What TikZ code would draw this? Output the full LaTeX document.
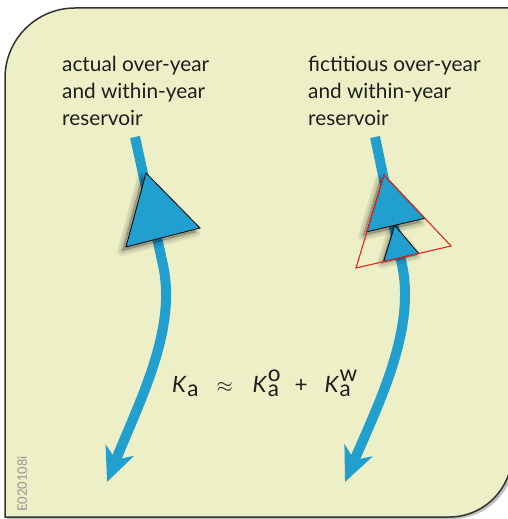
\documentclass[tikz,border=0pt]{standalone}
\usepackage{fontspec}
\setmainfont{Lato}
\usetikzlibrary{arrows.meta,calc}
\definecolor{bg}{RGB}{237,240,198}
\definecolor{flow}{RGB}{33,160,208}
\definecolor{ink}{RGB}{30,30,30}
\definecolor{redline}{RGB}{225,40,30}
\definecolor{mark}{RGB}{150,150,150}
\newcommand\Kbase{\textit{K}\kern0.5pt\raisebox{-4pt}{a}}
\newcommand\Kterm[1]{\textit{K}\kern0.5pt\rlap{\raisebox{-4pt}{a}}\raisebox{11pt}{#1}}
\newcommand\softshadow[1]{%
  \foreach \w in {10,7,4,1} {\filldraw[black,opacity=0.06,line width=\w pt,line join=round] #1;}}
\begin{document}
\begin{tikzpicture}[x=1pt,y=-1pt,
  lbl/.style={font=\fontsize{20.8}{27}\selectfont, text=ink, align=left, anchor=north west, inner sep=0pt},
  flowline/.style={draw=flow, line width=10pt, -{Stealth[length=34pt,width=30pt,inset=10pt]}},
  bluetri/.style={fill=flow, draw=black, line width=0.8pt, line join=miter},
  redtri/.style={draw=redline, line width=1.1pt, line join=miter},
  frame/.style={draw=black!80, line width=1.5pt}]
\useasboundingbox (0,0) rectangle (508,519);
% background panel
\fill[black,opacity=0.25] (7,519) -- (7,80) arc[start angle=180, end angle=270, radius=70] -- (515,10) -- (515,456) arc[start angle=0, end angle=90, radius=63] -- cycle;
\path[fill=bg, frame] (5,517) -- (5,78) arc[start angle=180, end angle=270, radius=70] -- (512,8) -- (512,454) arc[start angle=0, end angle=90, radius=63] -- cycle;

% labels
\node[lbl] (ltext) at (62,56) {actual over-year\\and within-year\\reservoir};
\node[lbl] (rtext) at (308,56) {fictitious over-year\\and within-year\\reservoir};

% left flow
\coordinate (L0) at (135,137);
\coordinate (L1) at (163,265);
\coordinate (Ltip) at (107,482);
\draw[flowline] (L0) -- (L1) .. controls (177,330) and (140,400) .. (Ltip);

% right flow
\coordinate (R0) at (375,137);
\coordinate (R1) at (402,265);
\coordinate (Rtip) at (345,482);
\draw[flowline] (R0) -- (R1) .. controls (416,330) and (378,405) .. (Rtip);

% left triangle
\coordinate (A1) at (146,173);
\coordinate (A2) at (200,228);
\coordinate (A3) at (126,247);
\begin{scope}[transform canvas={shift={(-4pt,-4pt)}}]
\softshadow{(A1) -- (A2) -- (A3) -- cycle}
\end{scope}
\draw[bluetri] (A1) -- (A2) -- (A3) -- cycle;

% right triangles
\coordinate (T1) at (384,175);
\coordinate (T2) at (451,246);
\coordinate (T3) at (356,268);
\coordinate (U2) at ($(T1)!0.61!(T2)$);
\coordinate (U3) at ($(T1)!0.61!(T3)$);
\coordinate (S1) at ($(U3)!0.48!(U2)$);
\coordinate (S2) at ($(T3)!0.66!(T2)$);
\coordinate (S3) at ($(T3)!0.29!(T2)$);
\begin{scope}[transform canvas={shift={(-4pt,-4pt)}}]
\softshadow{(T1) -- (U2) -- (U3) -- cycle}
\end{scope}
\begin{scope}[transform canvas={shift={(-2pt,-2pt)}}]
\softshadow{(S1) -- (S2) -- (S3) -- cycle}
\end{scope}
\draw[bluetri] (S1) -- (S2) -- (S3) -- cycle;
\draw[bluetri] (T1) -- (U2) -- (U3) -- cycle;
\draw[redtri] (T1) -- (T2) -- (T3) -- cycle;

% formula
\node[font=\fontsize{22.5}{22.5}\selectfont, text=ink, anchor=base west, inner sep=0pt] (eq) at (172,392)
  {\Kbase\hspace{18pt}$\approx$\hspace{20pt}\Kterm{o}\hspace{14pt}+\hspace{17pt}\Kterm{w}};

% code mark
\node[font=\fontsize{13}{13}\selectfont, text=mark, rotate=90, anchor=base west, inner sep=0pt] (code) at (27,512) {E020108i};
\end{tikzpicture}
\end{document}
